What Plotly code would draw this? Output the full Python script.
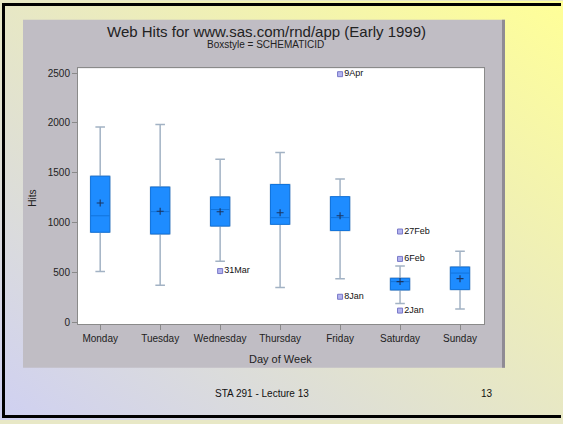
import base64
import plotly.graph_objects as go

W, H = 563, 424

# ---------------- data ----------------
days = ["Monday", "Tuesday", "Wednesday", "Thursday", "Friday", "Saturday", "Sunday"]
q1 = [903, 886, 965, 982, 920, 324, 327]
median = [1068, 1110, 1131, 1049, 1050, 407, 493]
q3 = [1465, 1356, 1257, 1382, 1260, 440, 553]
lower_whisker = [509, 370, 612, 347, 437, 188, 132]
upper_whisker = [1960, 1985, 1637, 1703, 1438, 565, 711]
means = [1197, 1114, 1108, 1098, 1068, 407, 437]

outlier_days = ["Friday", "Wednesday", "Friday", "Saturday", "Saturday", "Saturday"]
outlier_vals = [2490, 513, 255, 910, 635, 116]
outlier_labels = ["9Apr", "31Mar", "8Jan", "27Feb", "6Feb", "2Jan"]

y_ticks = [0, 500, 1000, 1500, 2000, 2500]

title = "Web Hits for www.sas.com/rnd/app (Early 1999)"
subtitle = "Boxstyle = SCHEMATICID"
footer = "STA 291 - Lecture 13"
page_no = "13"

# ---------------- styles ----------------
BOX_BLUE = "#1e8cff"
BOX_EDGE = "#1274dc"
WHISKER = "#a2b2c4"
PANEL = "#c0bdc4"
FONT = "Liberation Sans, Arial, sans-serif"

def px(x):
    return x / W

def py(y):
    return 1 - y / H

fig = go.Figure()

# whiskers (grey) layer
fig.add_trace(go.Box(
    x=days, q1=q1, median=median, q3=q3,
    lowerfence=lower_whisker, upperfence=upper_whisker,
    width=0.32, whiskerwidth=0.5,
    fillcolor="rgba(0,0,0,0)", line=dict(color=WHISKER, width=1.5),
    showlegend=False, hoverinfo="skip",
))
# boxes (blue) layer
fig.add_trace(go.Box(
    x=days, q1=q1, median=median, q3=q3,
    lowerfence=q1, upperfence=q3,
    width=0.32, whiskerwidth=0,
    fillcolor=BOX_BLUE, line=dict(color=BOX_EDGE, width=1),
    showlegend=False, hoverinfo="skip",
))
# means
fig.add_trace(go.Scatter(
    x=days, y=means, mode="markers",
    marker=dict(symbol="cross-thin", size=5, line=dict(color="#1c3560", width=1.1)),
    showlegend=False, hoverinfo="skip",
))
# outliers
fig.add_trace(go.Scatter(
    x=outlier_days, y=outlier_vals, mode="markers+text",
    text=outlier_labels, textposition="middle right",
    textfont=dict(family=FONT, size=9, color="#111"),
    marker=dict(symbol="square", size=5, color="#b4b4ee", line=dict(color="#7878c8", width=1)),
    showlegend=False, hoverinfo="skip",
))

# background gradient (slide)
svg = (
    '<svg xmlns="http://www.w3.org/2000/svg" width="563" height="424" preserveAspectRatio="none">'
    '<defs><linearGradient id="g" x1="0" y1="1" x2="1" y2="0">'
    '<stop offset="0" stop-color="#cfd0f2"/>'
    '<stop offset="1" stop-color="#ffff98"/>'
    '</linearGradient></defs>'
    '<rect width="563" height="424" fill="url(#g)"/></svg>'
)
src = "data:image/svg+xml;base64," + base64.b64encode(svg.encode()).decode()
fig.add_layout_image(dict(
    source=src, xref="paper", yref="paper", x=0, y=1, sizex=1, sizey=1,
    xanchor="left", yanchor="top", sizing="stretch", layer="below",
))

shapes = [
    # grey panel
    dict(type="rect", xref="paper", yref="paper", x0=px(23), x1=px(505), y0=py(371), y1=py(19),
         fillcolor=PANEL, line=dict(width=0), layer="below"),
    # panel right shadow edge
    dict(type="rect", xref="paper", yref="paper", x0=px(502), x1=px(505), y0=py(371), y1=py(19),
         fillcolor="#8f8b94", line=dict(width=0), layer="below"),
    # white plot area
    dict(type="rect", xref="paper", yref="paper", x0=px(78), x1=px(484), y0=py(327), y1=py(68),
         fillcolor="white", line=dict(width=0), layer="below"),
    # slide black border (left, top, bottom)
    dict(type="rect", xref="paper", yref="paper", x0=px(2), x1=px(5), y0=py(422), y1=py(2),
         fillcolor="black", line=dict(width=0), layer="below"),
    dict(type="rect", xref="paper", yref="paper", x0=px(2), x1=px(561), y0=py(5), y1=py(2),
         fillcolor="black", line=dict(width=0), layer="below"),
    dict(type="rect", xref="paper", yref="paper", x0=px(2), x1=px(561), y0=py(422), y1=py(419),
         fillcolor="black", line=dict(width=0), layer="below"),
]

annotations = [
    dict(text=title, x=px(266), y=py(31), xref="paper", yref="paper", showarrow=False,
         font=dict(family=FONT, size=15, color="#222"), xanchor="center", yanchor="middle"),
    dict(text=subtitle, x=px(265), y=py(44), xref="paper", yref="paper", showarrow=False,
         font=dict(family=FONT, size=10, color="#222"), xanchor="center", yanchor="middle"),
    dict(text="Hits", x=px(33), y=py(200), xref="paper", yref="paper", showarrow=False,
         textangle=-90, font=dict(family=FONT, size=10, color="#222"),
         xanchor="center", yanchor="middle"),
    dict(text="Day of Week", x=px(280), y=py(362), xref="paper", yref="paper", showarrow=False,
         font=dict(family=FONT, size=11, color="#222"), xanchor="center", yanchor="middle"),
    dict(text=footer, x=px(262), y=py(397), xref="paper", yref="paper", showarrow=False,
         font=dict(family=FONT, size=10, color="#111"), xanchor="center", yanchor="middle"),
    dict(text=page_no, x=px(487), y=py(397), xref="paper", yref="paper", showarrow=False,
         font=dict(family=FONT, size=10, color="#111"), xanchor="center", yanchor="middle"),
]

fig.update_layout(
    width=W, height=H, autosize=False,
    margin=dict(l=0, r=0, t=0, b=0, pad=0),
    paper_bgcolor="#e8e8c6", plot_bgcolor="rgba(0,0,0,0)",
    boxmode="overlay",
    shapes=shapes, annotations=annotations,
    font=dict(family=FONT, size=10, color="#222"),
    xaxis=dict(
        domain=[px(78), px(484)], type="category", categoryorder="array", categoryarray=days,
        range=[-0.37, 6.4], showgrid=False, zeroline=False,
        showline=True, linecolor="#8a8a8a", linewidth=1, mirror=True,
        ticks="outside", ticklen=5, tickcolor="#8a8a8a",
        tickfont=dict(family=FONT, size=10, color="#222"),
    ),
    yaxis=dict(
        domain=[py(327), py(68)], range=[-20, 2550],
        tickvals=y_ticks, ticktext=[str(v) for v in y_ticks],
        showgrid=False, zeroline=False,
        showline=True, linecolor="#8a8a8a", linewidth=1, mirror=True,
        ticks="outside", ticklen=5, tickcolor="#8a8a8a",
        tickfont=dict(family=FONT, size=10, color="#222"),
    ),
)

fig.write_html(
    "out.html",
    config={"displayModeBar": False},
    post_script="document.body.style.margin='0';document.body.style.overflow='hidden';",
)
